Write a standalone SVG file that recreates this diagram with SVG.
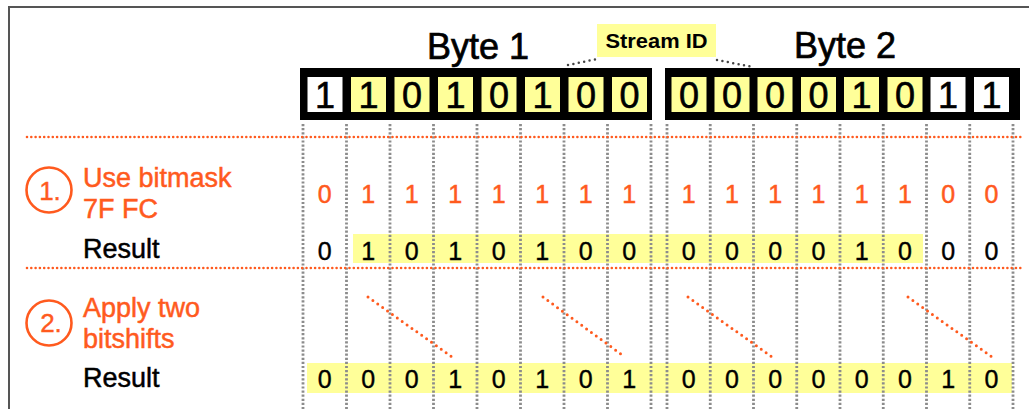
<svg xmlns="http://www.w3.org/2000/svg" width="1029" height="409" viewBox="0 0 1029 409">
  <style>
    text { font-family: "Liberation Sans", Arial, sans-serif; }
    .title { font-size: 36px; fill: #000; stroke: #000; stroke-width: 0.7; text-anchor: middle; }
    .cellnum { font-size: 36px; fill: #000; stroke: #000; stroke-width: 0.6; text-anchor: middle; }
    .mask { font-size: 25px; fill: #ff5a1e; stroke: #ff5a1e; stroke-width: 0.5; text-anchor: middle; }
    .res { font-size: 25px; fill: #000; stroke: #000; stroke-width: 0.4; text-anchor: middle; }
    .label { font-size: 27px; fill: #ff5a1e; stroke: #ff5a1e; stroke-width: 0.5; }
    .result { font-size: 27px; fill: #000; stroke: #000; stroke-width: 0.5; }
    .step { font-size: 26px; fill: #ff5a1e; stroke: #ff5a1e; stroke-width: 0.4; text-anchor: middle; }
    .tag { font-size: 21px; font-weight: bold; fill: #000; text-anchor: middle; }
    .y { fill: #ffff99; }
    .w { fill: #ffffff; }
    .grid { stroke: #8c8c8c; stroke-width: 2.8; stroke-dasharray: 2.2 1.9; fill: none; }
    .sep { stroke: #ff5a1e; stroke-width: 2.6; stroke-linecap: round; stroke-dasharray: 0 4.3; fill: none; }
    .shift { stroke: #ff5a1e; stroke-width: 3; stroke-linecap: round; stroke-dasharray: 0 6; fill: none; }
    .lead { stroke: #444; stroke-width: 2.5; stroke-linecap: round; stroke-dasharray: 0 5.5; fill: none; }
    .ring { fill: none; stroke: #ff5a1e; stroke-width: 2.6; }
  </style>

  <rect width="1029" height="409" fill="#fff"/>

  <!-- outer frame (open to the right and bottom) -->
  <g id="frame">
    <path d="M9 409 V7 H1029" fill="none" stroke="#555" stroke-width="2"/>
  </g>

  <!-- highlighted result bands -->
  <g id="bands">
    <rect class="y" x="353" y="234" width="570" height="29"/>
    <rect class="y" x="307" y="363" width="705" height="30"/>
  </g>

  <!-- column guides, separators and shift marks -->
  <g id="connectors">
    <path class="grid" d="M303 124V409 M346.5 124V409 M390 124V409 M433.5 124V409 M477 124V409 M520.5 124V409 M564 124V409 M607.5 124V409 M651 124V409"/>
    <path class="grid" d="M667 124V409 M710.25 124V409 M753.5 124V409 M796.75 124V409 M840 124V409 M883.25 124V409 M926.5 124V409 M969.75 124V409 M1013 124V409"/>
    <path class="sep" d="M27 137H1022 M27 268H1022"/>
    <path class="shift" d="M368 297L452 357 M543 297L625 357 M688 297L772 357 M908 297L992 357"/>
    <path class="lead" d="M568 65L597 59 M717 60L753 67"/>
  </g>

  <!-- first byte -->
  <g id="byte1">
    <text class="title" x="478" y="59">Byte 1</text>
    <rect x="300" y="68" width="352" height="52" fill="#000"/>
    <rect class="w" x="307.5" y="77" width="35" height="35"/>
    <rect class="y" x="351" y="77" width="35" height="35"/>
    <rect class="y" x="394.5" y="77" width="35" height="35"/>
    <rect class="y" x="438" y="77" width="35" height="35"/>
    <rect class="y" x="481.5" y="77" width="35" height="35"/>
    <rect class="y" x="525" y="77" width="35" height="35"/>
    <rect class="y" x="568.5" y="77" width="35" height="35"/>
    <rect class="y" x="612" y="77" width="35" height="35"/>
    <text class="cellnum" x="325" y="108">1</text>
    <text class="cellnum" x="368.5" y="108">1</text>
    <text class="cellnum" x="412" y="108">0</text>
    <text class="cellnum" x="455.5" y="108">1</text>
    <text class="cellnum" x="499" y="108">0</text>
    <text class="cellnum" x="542.5" y="108">1</text>
    <text class="cellnum" x="586" y="108">0</text>
    <text class="cellnum" x="629.5" y="108">0</text>
  </g>

  <!-- second byte -->
  <g id="byte2">
    <text class="title" x="845" y="58">Byte 2</text>
    <rect x="665" y="68" width="355" height="52" fill="#000"/>
    <rect class="y" x="671.5" y="77" width="35" height="35"/>
    <rect class="y" x="714.5" y="77" width="35" height="35"/>
    <rect class="y" x="757.5" y="77" width="35" height="35"/>
    <rect class="y" x="801" y="77" width="35" height="35"/>
    <rect class="y" x="844" y="77" width="35" height="35"/>
    <rect class="y" x="887.5" y="77" width="35" height="35"/>
    <rect class="w" x="930.5" y="77" width="35" height="35"/>
    <rect class="w" x="974" y="77" width="35" height="35"/>
    <text class="cellnum" x="689" y="108">0</text>
    <text class="cellnum" x="732" y="108">0</text>
    <text class="cellnum" x="775" y="108">0</text>
    <text class="cellnum" x="818.5" y="108">0</text>
    <text class="cellnum" x="861.5" y="108">1</text>
    <text class="cellnum" x="905" y="108">0</text>
    <text class="cellnum" x="948" y="108">1</text>
    <text class="cellnum" x="991.5" y="108">1</text>
  </g>

  <!-- stream id callout -->
  <g id="stream-id">
    <rect class="y" x="597" y="24" width="119" height="33"/>
    <text class="tag" x="656.5" y="48" textLength="102" lengthAdjust="spacingAndGlyphs">Stream ID</text>
  </g>

  <!-- step 1: mask -->
  <g id="step1">
    <circle class="ring" cx="49" cy="190" r="22.5"/>
    <text class="step" x="50" y="200">1.</text>
    <text class="label" x="83" y="187">Use bitmask</text>
    <text class="label" x="83" y="218">7F FC</text>
    <text class="result" x="83" y="258">Result</text>
    <g class="mask-row">
      <text class="mask" x="324.75" y="203">0</text>
      <text class="mask" x="368.25" y="203">1</text>
      <text class="mask" x="411.75" y="203">1</text>
      <text class="mask" x="455.25" y="203">1</text>
      <text class="mask" x="498.75" y="203">1</text>
      <text class="mask" x="542.25" y="203">1</text>
      <text class="mask" x="585.75" y="203">1</text>
      <text class="mask" x="629.25" y="203">1</text>
      <text class="mask" x="688.6" y="203">1</text>
      <text class="mask" x="731.9" y="203">1</text>
      <text class="mask" x="775.1" y="203">1</text>
      <text class="mask" x="818.4" y="203">1</text>
      <text class="mask" x="861.6" y="203">1</text>
      <text class="mask" x="904.9" y="203">1</text>
      <text class="mask" x="948.1" y="203">0</text>
      <text class="mask" x="991.4" y="203">0</text>
    </g>
    <g class="result-row">
      <text class="res" x="324.75" y="260">0</text>
      <text class="res" x="368.25" y="260">1</text>
      <text class="res" x="411.75" y="260">0</text>
      <text class="res" x="455.25" y="260">1</text>
      <text class="res" x="498.75" y="260">0</text>
      <text class="res" x="542.25" y="260">1</text>
      <text class="res" x="585.75" y="260">0</text>
      <text class="res" x="629.25" y="260">0</text>
      <text class="res" x="688.6" y="260">0</text>
      <text class="res" x="731.9" y="260">0</text>
      <text class="res" x="775.1" y="260">0</text>
      <text class="res" x="818.4" y="260">0</text>
      <text class="res" x="861.6" y="260">1</text>
      <text class="res" x="904.9" y="260">0</text>
      <text class="res" x="948.1" y="260">0</text>
      <text class="res" x="991.4" y="260">0</text>
    </g>
  </g>

  <!-- step 2: shifts -->
  <g id="step2">
    <circle class="ring" cx="49" cy="323" r="22.5"/>
    <text class="step" x="51" y="332">2.</text>
    <text class="label" x="83" y="317">Apply two</text>
    <text class="label" x="83" y="348">bitshifts</text>
    <text class="result" x="83" y="387">Result</text>
    <g class="result-row">
      <text class="res" x="324.75" y="388">0</text>
      <text class="res" x="368.25" y="388">0</text>
      <text class="res" x="411.75" y="388">0</text>
      <text class="res" x="455.25" y="388">1</text>
      <text class="res" x="498.75" y="388">0</text>
      <text class="res" x="542.25" y="388">1</text>
      <text class="res" x="585.75" y="388">0</text>
      <text class="res" x="629.25" y="388">1</text>
      <text class="res" x="688.6" y="388">0</text>
      <text class="res" x="731.9" y="388">0</text>
      <text class="res" x="775.1" y="388">0</text>
      <text class="res" x="818.4" y="388">0</text>
      <text class="res" x="861.6" y="388">0</text>
      <text class="res" x="904.9" y="388">0</text>
      <text class="res" x="948.1" y="388">1</text>
      <text class="res" x="991.4" y="388">0</text>
    </g>
  </g>
</svg>
